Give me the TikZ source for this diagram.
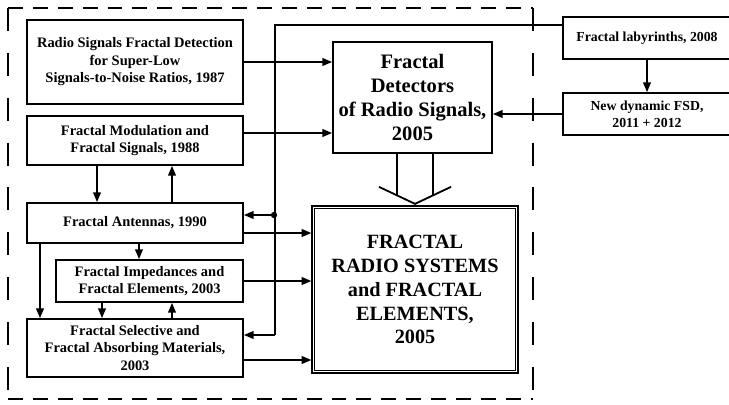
\documentclass[tikz,border=0pt]{standalone}
\usepackage{fontspec}
\setmainfont{Liberation Serif}
\usetikzlibrary{arrows.meta,calc}

\tikzset{
  box/.style={draw, line width=1.2pt, inner sep=0pt, align=center,
    font=\fontsize{10.3}{12.4}\selectfont\bfseries},
  arr/.style={line width=1.3pt, -{Triangle[length=7pt,width=5.5pt]}},
  wire/.style={line width=1.3pt},
}

\begin{document}
\begin{tikzpicture}[x=0.025cm, y=-0.025cm]
  \useasboundingbox (0,0) rectangle (729,404);

  % dashed frame
  \draw [line width=1.3pt, dash pattern=on 10.6pt off 7.1pt] (8,8) -- (533,8);
  \draw [line width=1.3pt, dash pattern=on 10.6pt off 7.1pt] (8,399) -- (533,399);
  \draw [line width=1.3pt, dash pattern=on 16.3pt off 15.6pt] (8,8) -- (8,399);
  \draw [line width=1.3pt, dash pattern=on 16.3pt off 15.6pt] (533,8) -- (533,399);

  % left column
  \node [box, minimum width=5.4cm, minimum height=2.1cm] (radio) at (135,62)
    {Radio Signals Fractal Detection\\for Super-Low\\Signals-to-Noise Ratios, 1987};
  \node [box, minimum width=5.4cm, minimum height=1.225cm] (modul) at (135,140.5)
    {Fractal Modulation and\\Fractal Signals, 1988};
  \node [box, minimum width=5.4cm, minimum height=1.0cm] (ant) at (135,223)
    {Fractal Antennas, 1990};
  \node [box, minimum width=4.675cm, minimum height=1.05cm] (imped) at (149.5,281)
    {Fractal Impedances and\\Fractal Elements, 2003};
  \node [box, minimum width=5.4cm, minimum height=1.45cm] (select) at (135,348)
    {Fractal Selective and\\Fractal Absorbing Materials,\\2003};

  % middle and right
  \node [box, minimum width=3.975cm, minimum height=2.775cm,
    font=\fontsize{14.6}{17}\selectfont\bfseries] (detect) at (412.5,97.5)
    {Fractal\\Detectors\\of Radio Signals,\\2005};
  \node [box, minimum width=5.15cm, minimum height=4.175cm, line width=0.8pt,
    font=\fontsize{14.4}{17}\selectfont\bfseries] (system) at (415,289.5)
    {FRACTAL\\RADIO SYSTEMS\\and FRACTAL\\ELEMENTS,\\2005};
  \draw [line width=0.8pt] ($(system.north west)+(3,3)$) rectangle ($(system.south east)+(-3,-3)$);
  \node [box, minimum width=4.2cm, minimum height=1.05cm,
    font=\fontsize{9.8}{12.4}\selectfont\bfseries] (labyr) at (647,38)
    {Fractal labyrinths, 2008};
  \node [box, minimum width=4.2cm, minimum height=1.05cm,
    font=\fontsize{9.8}{12.4}\selectfont\bfseries] (fsd) at (647,114)
    {New dynamic FSD,\\2011 + 2012};

  % inputs of the detectors
  \coordinate (m1) at ($(modul.east)+(0,-7.5)$);
  \draw [arr] (radio.east) -- (radio.east -| detect.west);
  \draw [arr] (m1) -- (m1 -| detect.west);
  \draw [arr] (labyr.south) -- (fsd.north);
  \draw [arr] (fsd.west) -- (fsd.west -| detect.east);

  % links inside the left column
  \coordinate (ms1) at ($(modul.south)+(-38,0)$);
  \coordinate (as1) at ($(ant.north)+(37,0)$);
  \coordinate (as2) at ($(ant.south)+(-95,0)$);
  \coordinate (as3) at ($(ant.south)+(4,0)$);
  \coordinate (is1) at ($(imped.south)+(-47.5,0)$);
  \coordinate (ss1) at ($(select.north)+(37,0)$);
  \draw [arr] (ms1) -- (ms1 |- ant.north);
  \draw [arr] (as1) -- (as1 |- modul.south);
  \draw [arr] (as2) -- (as2 |- select.north);
  \draw [arr] (as3) -- (as3 |- imped.north);
  \draw [arr] (is1) -- (is1 |- select.north);
  \draw [arr] (ss1) -- (ss1 |- imped.south);

  % inputs of the systems box
  \coordinate (a1) at ($(ant.east)+(0,10)$);
  \coordinate (s1) at ($(select.east)+(0,12)$);
  \draw [arr] (a1) -- (a1 -| system.west);
  \draw [arr] (imped.east) -- (imped.east -| system.west);
  \draw [arr] (s1) -- (s1 -| system.west);

  % bus from the labyrinths
  \node [inner sep=0pt, minimum size=4.5pt, circle, fill] (dot) at (274,215) {};
  \coordinate (lt) at ($(labyr.west)+(0,-13)$);
  \coordinate (bb) at ($(select.east)+(31,-13)$);
  \draw [wire] (lt) -| (bb);
  \draw [arr] (dot) -- (dot -| ant.east);
  \draw [arr] (bb) -- (bb -| select.east);

  % open arrow
  \coordinate (oa) at ($(detect.south)+(2.5,0)$);
  \draw [wire] ($(oa)+(-18,0)$) -- ++(0,41.5);
  \draw [wire] ($(oa)+(18,0)$) -- ++(0,41.5);
  \draw [wire] ($(oa)+(-36,33)$) -- ($(oa)+(0,50)$) -- ($(oa)+(36,33)$);
\end{tikzpicture}
\end{document}
